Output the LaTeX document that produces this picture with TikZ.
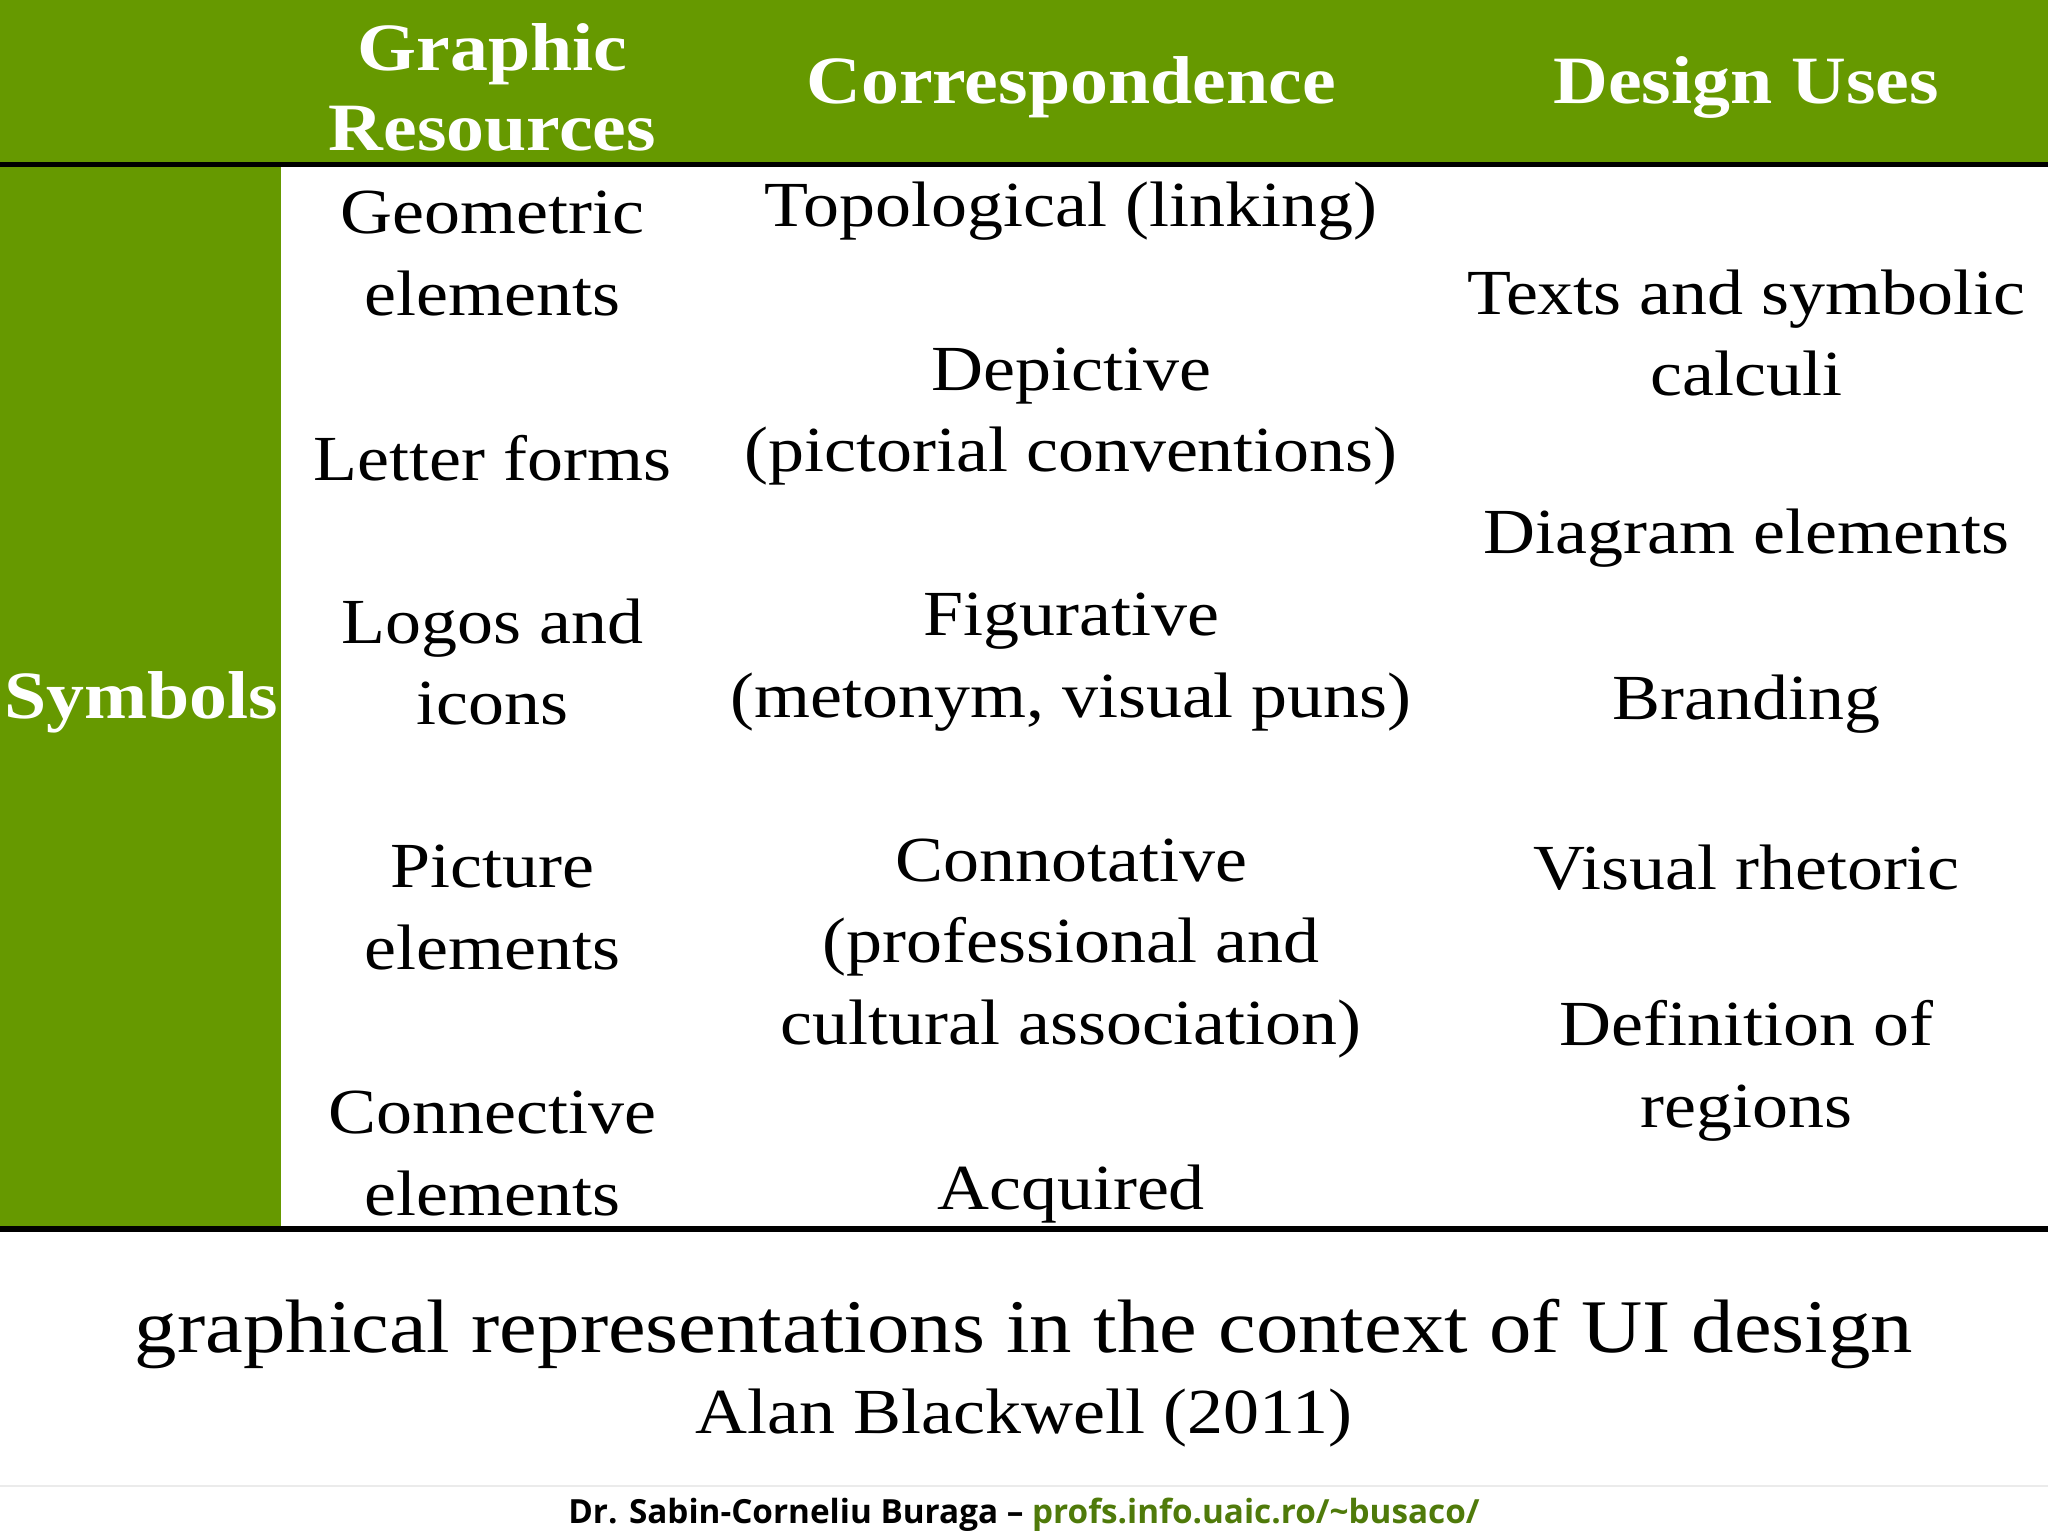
\documentclass[tikz,border=0pt]{standalone}
\usepackage{fontspec}
\setmainfont[FakeStretch=1.12]{Liberation Serif}
\newfontfamily\footfont{Open Sans}
\definecolor{hdrgreen}{HTML}{669900}
\definecolor{linkgreen}{HTML}{4F7A0A}
\begin{document}
\begin{tikzpicture}[x=0.02cm,y=-0.02cm,
  cell/.style={align=center,inner sep=0pt,font=\fontsize{28}{35.5}\selectfont,yshift=-0.08cm},
  hdr/.style={align=center,inner sep=0pt,text=white,font=\bfseries\fontsize{29.5}{35}\selectfont,yshift=-0.06cm}]
\useasboundingbox (0,0) rectangle (1568,1176);
\fill[hdrgreen] (0,0) rectangle (1568,125);
\fill[hdrgreen] (0,125) rectangle (215,940);
\draw[line width=2.5pt] (0,126) -- (1568,126);
\draw[line width=2.5pt] (0,941) -- (1568,941);
\draw[black!8,line width=0.8pt] (0,1138) -- (1568,1138);
\node[hdr] (h1) at (377,64) {Graphic\\Resources};
\node[hdr] (h2) at (820,64) {Correspondence};
\node[hdr] (h3) at (1337,64) {Design Uses};
\node[hdr] (sym) at (108,535) {Symbols};
\node[cell] (a1) at (377,190) {Geometric\\elements};
\node[cell] (a2) at (377,347) {Letter forms};
\node[cell] (a3) at (377,503) {Logos and\\icons};
\node[cell] (a4) at (377,691) {Picture\\elements};
\node[cell] (a5) at (377,879) {Connective\\elements};
\node[cell] (b1) at (820,158) {Topological (linking)};
\node[cell] (b2) at (820,315) {Depictive\\(pictorial conventions)};
\node[cell] (b3) at (820,503) {Figurative\\(metonym, visual puns)};
\node[cell] (b4) at (820,722) {Connotative\\(professional and\\cultural association)};
\node[cell] (b5) at (820,910) {Acquired};
\node[cell] (c1) at (1337,251) {Texts and symbolic\\calculi};
\node[cell] (c2) at (1337,408) {Diagram elements};
\node[cell] (c3) at (1337,535) {Branding};
\node[cell] (c4) at (1337,660) {Visual rhetoric};
\node[cell] (c5) at (1337,816) {Definition of\\regions};
\node[inner sep=0pt,font=\fontsize{33}{36}\selectfont] (cap) at (784,1021) {graphical representations in the context of UI design};
\node[inner sep=0pt,font=\fontsize{28}{32}\selectfont] (auth) at (784,1086) {Alan Blackwell (2011)};
\node[inner sep=0pt,font=\footfont\bfseries\fontsize{14.5}{16}\selectfont] (foot) at (784,1160) {Dr. Sabin-Corneliu Buraga \textendash{} \textcolor{linkgreen}{profs.info.uaic.ro/\char`~busaco/}};
\end{tikzpicture}
\end{document}
